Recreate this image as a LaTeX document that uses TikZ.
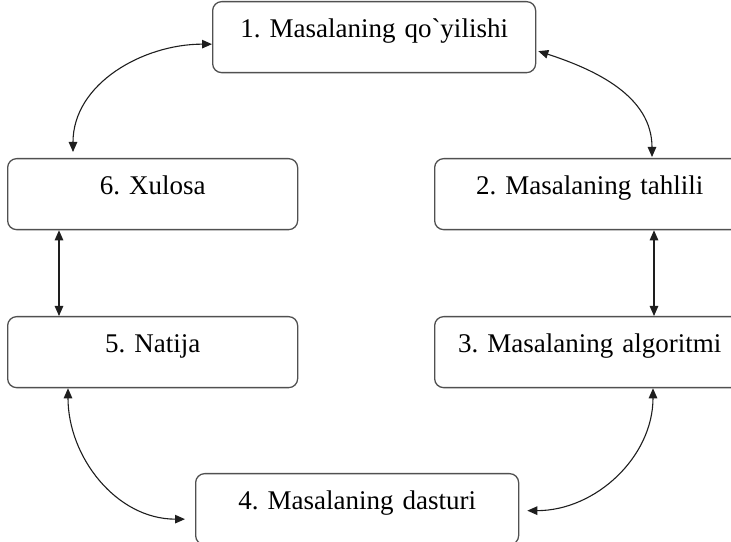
\documentclass[tikz,border=0pt]{standalone}
\usepackage{fontspec}
\setmainfont{Liberation Serif}
\usetikzlibrary{arrows.meta,positioning}
\definecolor{boxline}{RGB}{80,80,80}
\definecolor{arrline}{RGB}{30,30,30}
\frenchspacing

\begin{document}
\begin{tikzpicture}[
  x=1pt,y=1pt,
  stagebox/.style={rectangle,rounded corners=9pt,draw=boxline,line width=1.3pt,
    anchor=north west,inner xsep=0pt,inner ysep=0pt,align=center,
    text height=36pt,text depth=35pt,font=\fontsize{27}{30}\selectfont},
  arr/.style={{Triangle[length=10pt,width=8.5pt]}-{Triangle[length=10pt,width=8.5pt]},
    line width=1.1pt,draw=arrline}
]
\useasboundingbox (0,0) rectangle (731,541);
\clip (0,0) rectangle (731,541);
\node[stagebox,text width=323pt] (qoyilish) at (212,540) {1. Masalaning qo\textasciigrave yilishi};
\node[stagebox,text width=310pt] (tahlil) at (434,383) {2. Masalaning tahlili};
\node[stagebox,text width=310pt] (algoritm) at (434,225) {3. Masalaning algoritmi};
\node[stagebox,text width=323pt] (dastur) at (195,68) {4. Masalaning dasturi};
\node[stagebox,text width=290pt] (natija) at (7,225) {5. Natija};
\node[stagebox,text width=290pt] (xulosa) at (7,383) {6. Xulosa};

\draw[arr] ([yshift=-7pt]qoyilish.west) to[out=180,in=90] ([xshift=66pt,yshift=6pt]xulosa.north west);
\draw[arr] ([xshift=2pt,yshift=-14pt]qoyilish.east) to[out=-18,in=90] ([xshift=218pt,yshift=1pt]tahlil.north west);
\draw[arr] ([xshift=220pt]tahlil.south west) -- ([xshift=220pt]algoritm.north west);
\draw[arr] ([xshift=52pt]xulosa.south west) -- ([xshift=52pt]natija.north west);
\draw[arr] ([xshift=61pt]natija.south west) to[out=-90,in=180] ([xshift=-10pt,yshift=-10pt]dastur.west);
\draw[arr] ([xshift=219pt]algoritm.south west) to[out=-90,in=0] ([xshift=8pt,yshift=-1.5pt]dastur.east);
\end{tikzpicture}
\end{document}
